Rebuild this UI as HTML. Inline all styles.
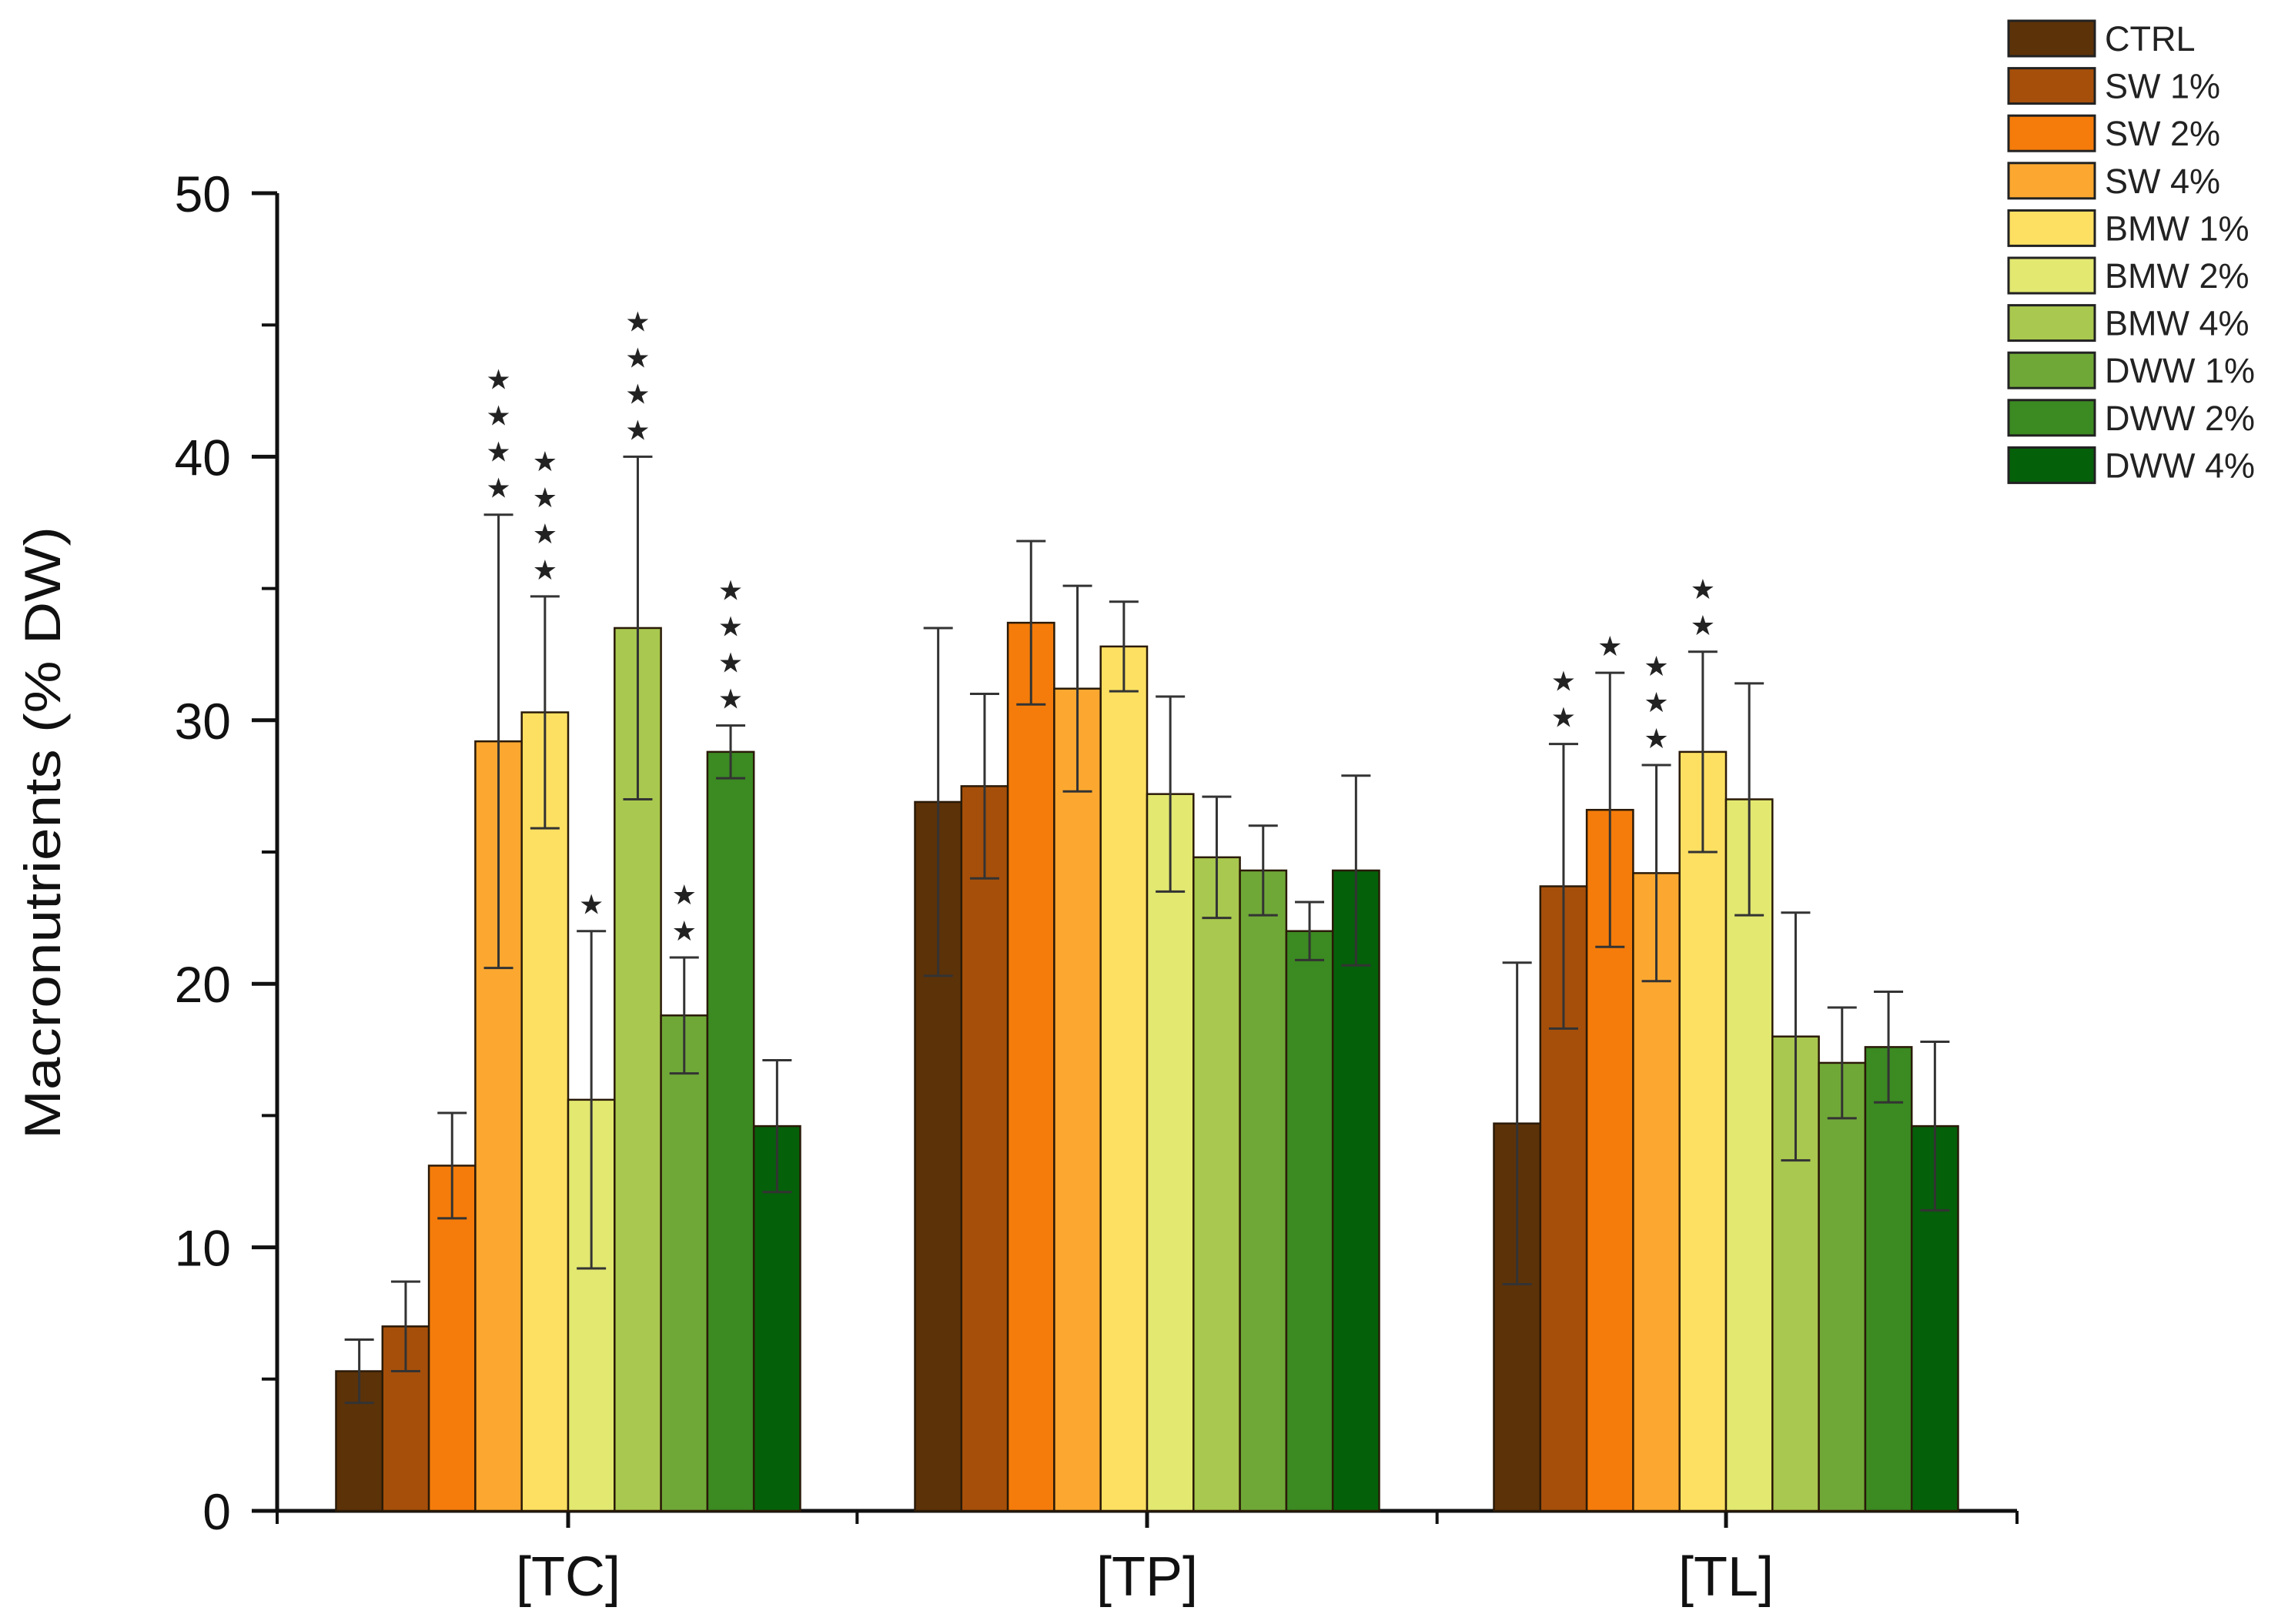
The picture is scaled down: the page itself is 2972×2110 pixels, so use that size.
<!DOCTYPE html>
<html><head><meta charset="utf-8"><style>
html,body{margin:0;padding:0;background:#fff;}
svg{display:block;font-family:"Liberation Sans",sans-serif;}
</style></head><body>
<svg id="chart" width="2972" height="2110" viewBox="0 0 2972 2110" xmlns="http://www.w3.org/2000/svg">
<g id="axes"></g>
<g id="bars"></g>
<g id="legend"></g>
<text transform="translate(78,1082) rotate(-90)" text-anchor="middle" font-size="66" textLength="796" lengthAdjust="spacingAndGlyphs" fill="#111">Macronutrients (% DW)</text>
</svg>
<script>
const categories = ["[TC]", "[TP]", "[TL]"];
const seriesNames = ["CTRL","SW 1%","SW 2%","SW 4%","BMW 1%","BMW 2%","BMW 4%","DWW 1%","DWW 2%","DWW 4%"];
const seriesColors = ["#5c3208","#a64f0a","#f57c0a","#fca830","#fde062","#e2e870","#a9c84f","#70a838","#3b8a22","#05600a"];
const valuesTC = [5.3, 7.0, 13.1, 29.2, 30.3, 15.6, 33.5, 18.8, 28.8, 14.6];
const errorsTC = [1.2, 1.7, 2.0, 8.6, 4.4, 6.4, 6.5, 2.2, 1.0, 2.5];
const valuesTP = [26.9, 27.5, 33.7, 31.2, 32.8, 27.2, 24.8, 24.3, 22.0, 24.3];
const errorsTP = [6.6, 3.5, 3.1, 3.9, 1.7, 3.7, 2.3, 1.7, 1.1, 3.6];
const valuesTL = [14.7, 23.7, 26.6, 24.2, 28.8, 27.0, 18.0, 17.0, 17.6, 14.6];
const errorsTL = [6.1, 5.4, 5.2, 4.1, 3.8, 4.4, 4.7, 2.1, 2.1, 3.2];
const starsTC = [0, 0, 0, 4, 4, 1, 4, 2, 4, 0];
const starsTP = [0, 0, 0, 0, 0, 0, 0, 0, 0, 0];
const starsTL = [0, 2, 1, 3, 2, 0, 0, 0, 0, 0];
const yTicks = [0, 10, 20, 30, 40, 50];

const NS = "http://www.w3.org/2000/svg";
const X0 = 360, X1 = 2620, Y0 = 1963, Y1 = 251, YMAX = 50;
const groupW = (X1 - X0) / 3;
const barW = 60.3;
function yScale(v){ return Y0 - (v / YMAX) * (Y0 - Y1); }
function groupCenter(i){ return 738 + 752 * i; }
function barX(g, s){ return groupCenter(g) - barW * 5 + s * barW; }
function mk(tag, attrs, parent){ const e = document.createElementNS(NS, tag); for (const k in attrs) e.setAttribute(k, attrs[k]); parent.appendChild(e); return e; }

const axes = document.getElementById('axes');
const bars = document.getElementById('bars');
const legend = document.getElementById('legend');

yTicks.forEach(t => {
  const y = yScale(t);
  const tk = mk('line', {x1: X0 - 33, x2: X0, y1: y, y2: y, stroke: '#111', 'stroke-width': 5}, axes);
  
  
  const lb = mk('text', {x: X0 - 60, y: y + 24, 'text-anchor': 'end', 'font-size': 66, fill: '#111'}, axes);
  lb.textContent = t;
  
  
  if (t < YMAX) {
    const ym = yScale(t + 5);
    const mt = mk('line', {x1: X0 - 20, x2: X0, y1: ym, y2: ym, stroke: '#111', 'stroke-width': 4}, axes);
    
    
  }
});

const datasets = [[valuesTC, errorsTC, starsTC], [valuesTP, errorsTP, starsTP], [valuesTL, errorsTL, starsTL]];
datasets.forEach((ds, g) => {
  const [vals, errs, stars] = ds;
  vals.forEach((v, s) => {
    const x = barX(g, s);
    const r = mk('rect', {x: x, y: yScale(v), width: barW, height: Y0 - yScale(v), fill: seriesColors[s], stroke: '#2a1a08', 'stroke-width': 2.5}, bars);
    
    
    const cx = x + barW / 2;
    const top = yScale(v + errs[s]), bot = yScale(v - errs[s]);
    const eb = mk('path', {d: `M${cx},${top}V${bot}M${cx-19},${top}H${cx+19}M${cx-19},${bot}H${cx+19}`, stroke: '#333', 'stroke-width': 3, fill: 'none'}, bars);
    
    
    for (let k = 0; k < stars[s]; k++) {
      const st = mk('text', {x: cx, y: top - 22 - k * 47, 'text-anchor': 'middle', 'font-size': 36, fill: '#222'}, bars);
      st.textContent = '★';
      
      
    }
  });
  const tk = mk('line', {x1: groupCenter(g), x2: groupCenter(g), y1: Y0, y2: Y0 + 22, stroke: '#111', 'stroke-width': 5}, axes);
  
  
  const lb = mk('text', {x: groupCenter(g), y: Y0 + 110, 'text-anchor': 'middle', 'font-size': 72, fill: '#111'}, axes);
  lb.textContent = categories[g];
  
  
});
[0, 1, 2, 3].forEach(i => {
  const x = X0 + groupW * i;
  const tk = mk('line', {x1: x, x2: x, y1: Y0, y2: Y0 + 17, stroke: '#111', 'stroke-width': 4}, axes);
  
  
});
const ya = mk('line', {x1: X0, x2: X0, y1: Y1, y2: Y0 + 2, stroke: '#111', 'stroke-width': 5}, axes);


const xa = mk('line', {x1: X0 - 2, x2: X1, y1: Y0, y2: Y0, stroke: '#111', 'stroke-width': 5}, axes);



seriesNames.forEach((n, i) => {
  const y = 27 + i * 61.6;
  const sw = mk('rect', {x: 2609, y: y, width: 112, height: 46, fill: seriesColors[i], stroke: '#222', 'stroke-width': 3}, legend);
  
  
  const t = mk('text', {x: 2734, y: y + 39, 'font-size': 45, fill: '#222'}, legend);
  t.textContent = n;
  
  
});
</script>
</body></html>
